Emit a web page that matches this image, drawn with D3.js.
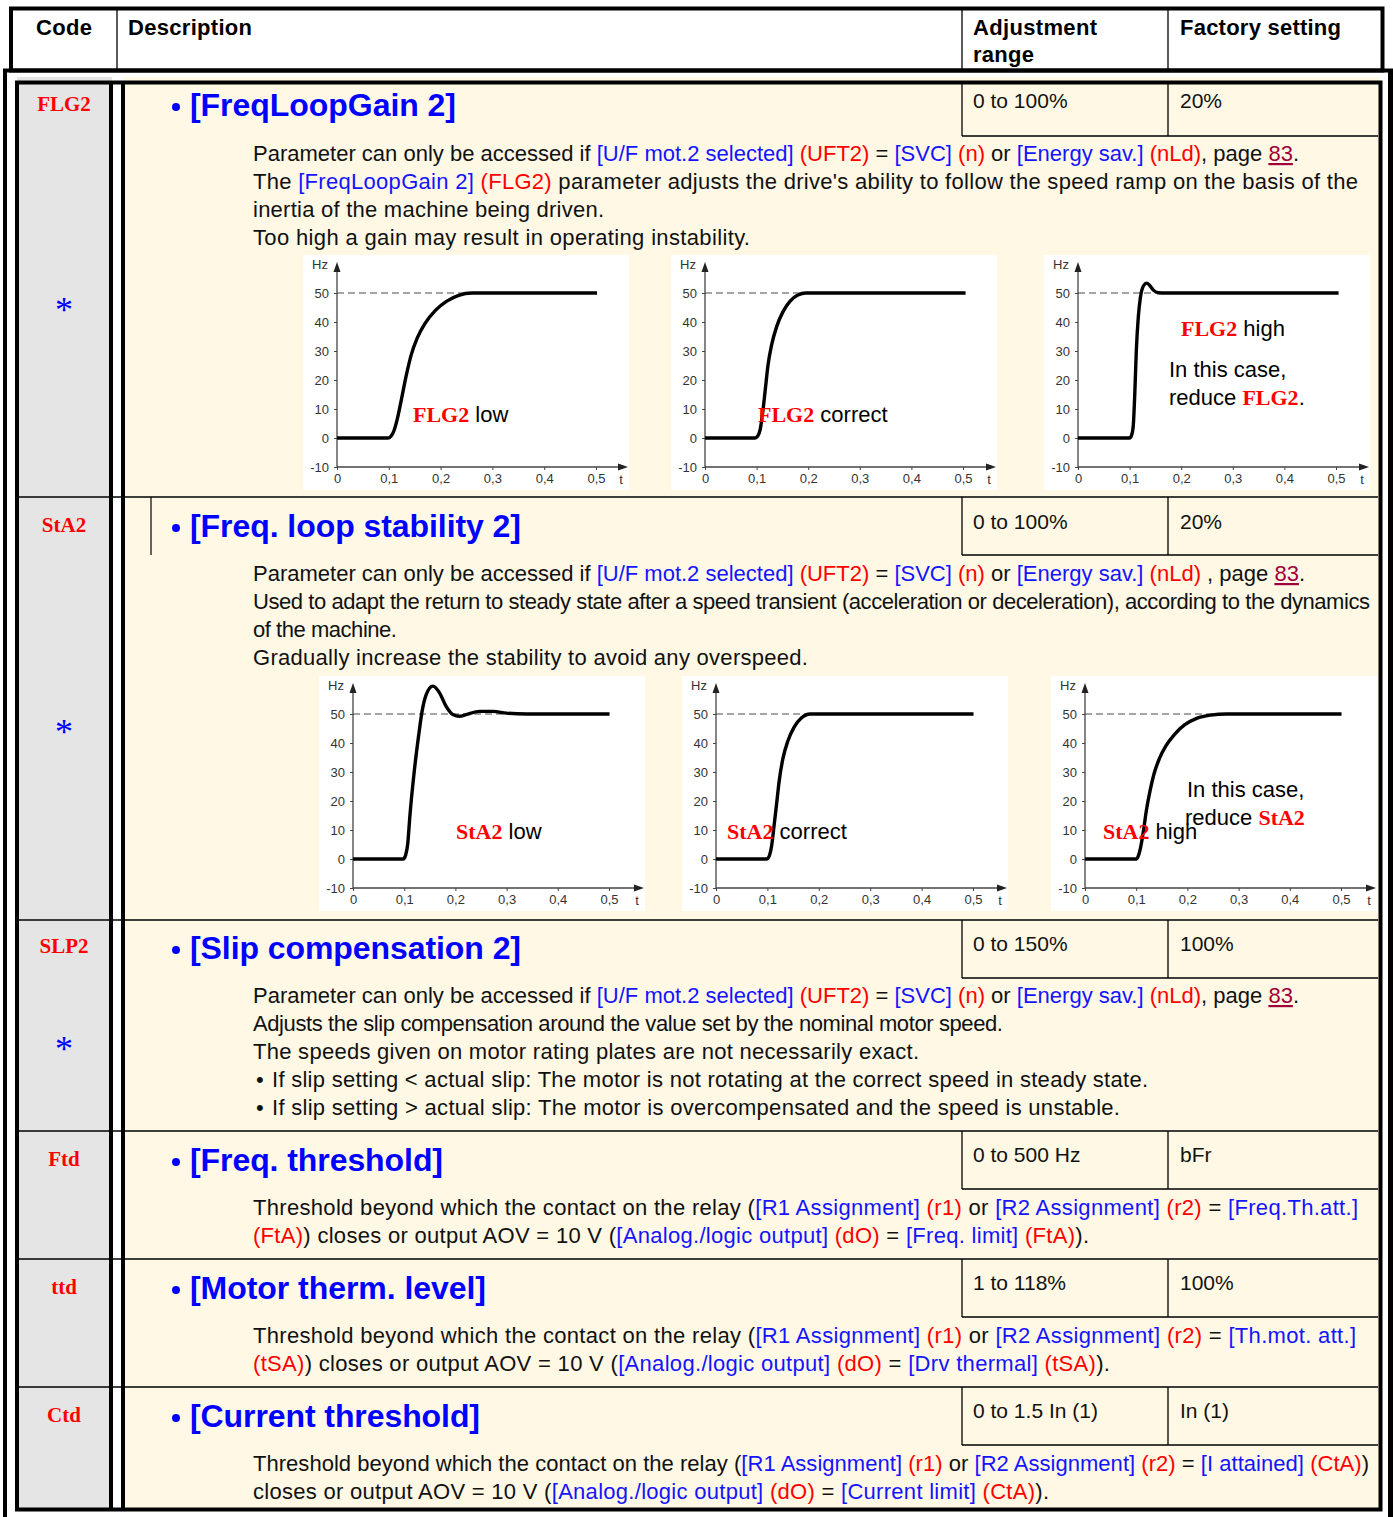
<!DOCTYPE html>
<html><head><meta charset="utf-8">
<script src="https://cdn.jsdelivr.net/npm/d3@7"></script>
<style>body{margin:0;background:#fff} svg{display:block} text{white-space:pre}</style>
</head><body><svg id="c" width="1393" height="1517"></svg>
<script>
// ---------------- DATA ----------------
const codes = ["FLG2", "StA2", "SLP2", "Ftd", "ttd", "Ctd"];
const titles = ["[FreqLoopGain 2]", "[Freq. loop stability 2]", "[Slip compensation 2]", "[Freq. threshold]", "[Motor therm. level]", "[Current threshold]"];
const ranges = ["0 to 100%", "0 to 100%", "0 to 150%", "0 to 500 Hz", "1 to 118%", "0 to 1.5 In (1)"];
const factory = ["20%", "20%", "100%", "bFr", "100%", "In (1)"];
const starred = [true, true, true, false, false, false];
const headers = ["Code", "Description", "Adjustment", "range", "Factory setting"];

const descFLG2 = [
  "Parameter can only be accessed if {b:[U/F mot.2 selected]} {r:(UFT2)} = {b:[SVC]} {r:(n)} or {b:[Energy sav.]} {r:(nLd)}, page {u:83}.",
  "The {b:[FreqLoopGain 2]} {r:(FLG2)} parameter adjusts the drive's ability to follow the speed ramp on the basis of the",
  "inertia of the machine being driven.",
  "Too high a gain may result in operating instability."
];
const descStA2 = [
  "Parameter can only be accessed if {b:[U/F mot.2 selected]} {r:(UFT2)} = {b:[SVC]} {r:(n)} or {b:[Energy sav.]} {r:(nLd)} , page {u:83}.",
  "Used to adapt the return to steady state after a speed transient (acceleration or deceleration), according to the dynamics",
  "of the machine.",
  "Gradually increase the stability to avoid any overspeed."
];
const descSLP2 = [
  "Parameter can only be accessed if {b:[U/F mot.2 selected]} {r:(UFT2)} = {b:[SVC]} {r:(n)} or {b:[Energy sav.]} {r:(nLd)}, page {u:83}.",
  "Adjusts the slip compensation around the value set by the nominal motor speed.",
  "The speeds given on motor rating plates are not necessarily exact.",
  "•If slip setting < actual slip: The motor is not rotating at the correct speed in steady state.",
  "•If slip setting > actual slip: The motor is overcompensated and the speed is unstable."
];
const descFtd = [
  "Threshold beyond which the contact on the relay ({b:[R1 Assignment]} {r:(r1)} or {b:[R2 Assignment]} {r:(r2)} = {b:[Freq.Th.att.]}",
  "{r:(FtA)}) closes or output AOV = 10 V ({b:[Analog./logic output]} {r:(dO)} = {b:[Freq. limit]} {r:(FtA)})."
];
const descTtd = [
  "Threshold beyond which the contact on the relay ({b:[R1 Assignment]} {r:(r1)} or {b:[R2 Assignment]} {r:(r2)} = {b:[Th.mot. att.]}",
  "{r:(tSA)}) closes or output AOV = 10 V ({b:[Analog./logic output]} {r:(dO)} = {b:[Drv thermal]} {r:(tSA)})."
];
const descCtd = [
  "Threshold beyond which the contact on the relay ({b:[R1 Assignment]} {r:(r1)} or {b:[R2 Assignment]} {r:(r2)} = {b:[I attained]} {r:(CtA)})",
  "closes or output AOV = 10 V ({b:[Analog./logic output]} {r:(dO)} = {b:[Current limit]} {r:(CtA)})."
];
const descriptions = [descFLG2, descStA2, descSLP2, descFtd, descTtd, descCtd];

// chart axes
const yTicks = [-10, 0, 10, 20, 30, 40, 50];
const tTicks = [0, 0.1, 0.2, 0.3, 0.4, 0.5];
const yUnit = "Hz", tUnit = "t";

// chart series [t, Hz]
const flg2Low = [[0,0],[0.098,0],[0.104,0.6],[0.11,2.5],[0.117,7],[0.124,13],[0.133,21],[0.143,28.5],[0.155,34.5],[0.17,39.5],[0.19,44],[0.212,47.2],[0.235,49.2],[0.26,50],[0.502,50]];
const flg2Correct = [[0,0],[0.097,0],[0.102,0.6],[0.107,3],[0.112,9],[0.117,17],[0.122,25],[0.129,32],[0.139,38.5],[0.151,43.5],[0.165,47.2],[0.18,49.3],[0.196,50],[0.505,50]];
const flg2High = [[0,0],[0.1,0],[0.104,1],[0.107,4],[0.11,15],[0.113,30],[0.117,42],[0.121,48.5],[0.127,52.5],[0.133,53.4],[0.139,52.6],[0.146,51],[0.155,50.1],[0.17,50],[0.505,50]];
const stA2Low = [[0,0],[0.098,0],[0.103,1.5],[0.107,5.4],[0.111,14.6],[0.12,30.8],[0.128,42.3],[0.135,51],[0.143,56.7],[0.156,59.6],[0.169,57.3],[0.182,52.6],[0.195,49.8],[0.208,49.2],[0.221,49.8],[0.247,50.9],[0.273,50.9],[0.3,50.3],[0.339,50],[0.501,50]];
const stA2Correct = [[0,0],[0.099,0],[0.104,1.2],[0.108,4.3],[0.113,11.5],[0.118,19.2],[0.123,27],[0.13,34.5],[0.14,40.8],[0.152,45.5],[0.166,48.6],[0.183,50],[0.501,50]];
const stA2High = [[0,0],[0.1,0],[0.104,1],[0.108,3.5],[0.114,9.5],[0.12,16.9],[0.127,23.5],[0.135,29.5],[0.145,34.5],[0.158,39],[0.175,43],[0.195,46.3],[0.218,48.5],[0.245,49.6],[0.277,50],[0.501,50]];
const chartSeries = [flg2Low, flg2Correct, flg2High, stA2Low, stA2Correct, stA2High];
const setpoint = 50;

const chartNotes = [
  [["{c:FLG2} low"]],
  [["{c:FLG2} correct"]],
  [["{c:FLG2} high"], ["In this case,"], ["reduce {c:FLG2}."]],
  [["{c:StA2} low"]],
  [["{c:StA2} correct"]],
  [["{c:StA2} high"], ["In this case,"], ["reduce {c:StA2}"]]
];

// ---------------- LAYOUT / STYLE ----------------
const SANS = "'Liberation Sans', Arial, sans-serif";
const SERIF = "'Liberation Serif', 'Times New Roman', serif";
const C_HEAD = "#0000ff", C_LINK = "#1414ff", C_RED = "#ff0000", C_TXT = "#111", C_PAGE = "#a0003a";
const C_GRAY = "#e5e5e5", C_CREAM = "#fef8e5";

const rowTops = [82, 497, 920, 1131, 1259, 1387];
const rowBottom = 1509;
const headY = [116, 537, 959, 1171, 1299, 1427];
const cellY = [108, 529, 951, 1162, 1290, 1418];
const cellBot = [136, 555, 978, 1189, 1317, 1445];
const codeY = [111, 532, 953, 1166, 1294, 1422];
const starY = [322, 744, 1061];
const lineY0 = [161, 581, 1003, 1215, 1343, 1471];
const lineH = 28;
const headEnds = [456, 521, 521, 443, 486, 480];
const lineEnds = [[1299,1358,604,750],[1305,1370,397,808],[1299,1003,919,1148,1120],[1358,1089],[1356,1110],[1369,1049]];

const chartPos = [
  {ax:337, ax5:596, y50:293, ym:467},
  {ax:705, ax5:963, y50:293, ym:467},
  {ax:1078, ax5:1336, y50:293, ym:467},
  {ax:353, ax5:609, y50:714, ym:888},
  {ax:716, ax5:973, y50:714, ym:888},
  {ax:1085, ax5:1341, y50:714, ym:888}
];
const notePos = [
  [[76,129]],
  [[53,129]],
  [[103,43],[91,84],[91,112]],
  [[103,125]],
  [[11,125]],
  [[18,125],[102,83],[100,111]]
];

const svg = d3.select("#c");

function fitWidth(sel, x0, x1) {
  const node = sel.node();
  const w = node.getComputedTextLength();
  const n = node.textContent.length;
  if (n > 1) sel.style("letter-spacing", ((x1 - x0 - w) / (n - 1)).toFixed(3) + "px");
}

function rich(parent, str, x, y, size) {
  const t = parent.append("text").attr("x", x).attr("y", y)
    .style("font-family", SANS).style("font-size", size + "px").attr("fill", C_TXT);
  const re = /\{([bruc]):([^}]*)\}/g;
  let last = 0, m;
  while ((m = re.exec(str))) {
    if (m.index > last) t.append("tspan").text(str.slice(last, m.index));
    const ts = t.append("tspan").text(m[2]);
    if (m[1] === "b") ts.attr("fill", C_LINK);
    else if (m[1] === "r") ts.attr("fill", C_RED);
    else if (m[1] === "u") ts.attr("fill", C_PAGE).style("text-decoration", "underline");
    else if (m[1] === "c") ts.attr("fill", C_RED).style("font-family", SERIF).style("font-weight", "bold");
    last = re.lastIndex;
  }
  if (last < str.length) t.append("tspan").text(str.slice(last));
  return t;
}

// ---------- background fills ----------
svg.append("rect").attr("x", 17).attr("y", 77).attr("width", 95).attr("height", rowBottom - 77).attr("fill", C_GRAY);
svg.append("rect").attr("x", 123).attr("y", 77).attr("width", 1257).attr("height", rowBottom - 77).attr("fill", C_CREAM);

// ---------- header ----------
const hdr = svg.append("g");
hdr.append("rect").attr("x", 11).attr("y", 8.5).attr("width", 1371.5).attr("height", 62).attr("fill", "#fff").attr("stroke", "#000").attr("stroke-width", 4);
[117, 962, 1168].forEach(x => hdr.append("line").attr("x1", x).attr("x2", x).attr("y1", 10).attr("y2", 69).attr("stroke", "#000").attr("stroke-width", 1.3));
const hpos = [[36,35,92],[128,35,252],[973,35,1097],[973,62,1034],[1180,35,1341]];
headers.forEach((h, i) => {
  const t = hdr.append("text").attr("x", hpos[i][0]).attr("y", hpos[i][1]).text(h)
    .style("font-family", SANS).style("font-weight", "bold").style("font-size", "22px").attr("fill", "#000");
  fitWidth(t, hpos[i][0], hpos[i][2]);
});

// ---------- rows ----------
const body = svg.append("g");
codes.forEach((code, i) => {
  const top = rowTops[i];
  if (i > 0) body.append("line").attr("x1", 19).attr("x2", 1378).attr("y1", top).attr("y2", top).attr("stroke", "#000").attr("stroke-width", 1.4);
  body.append("line").attr("x1", 962).attr("x2", 1378).attr("y1", cellBot[i]).attr("y2", cellBot[i]).attr("stroke", "#000").attr("stroke-width", 1.3);
  [962, 1168].forEach(x => body.append("line").attr("x1", x).attr("x2", x).attr("y1", top).attr("y2", cellBot[i]).attr("stroke", "#000").attr("stroke-width", 1.3));
  body.append("text").attr("x", 973).attr("y", cellY[i]).text(ranges[i]).style("font-family", SANS).style("font-size", "21px").attr("fill", C_TXT);
  body.append("text").attr("x", 1180).attr("y", cellY[i]).text(factory[i]).style("font-family", SANS).style("font-size", "21px").attr("fill", C_TXT);
  body.append("text").attr("x", 64).attr("y", codeY[i]).attr("text-anchor", "middle").text(code)
    .style("font-family", SERIF).style("font-weight", "bold").style("font-size", "21px").attr("fill", C_RED);
  if (starred[i]) body.append("text").attr("x", 64).attr("y", starY[i]).attr("text-anchor", "middle").text("*")
    .style("font-family", SERIF).style("font-size", "36px").attr("fill", C_HEAD);
  body.append("circle").attr("cx", 176).attr("cy", headY[i] - 9).attr("r", 4).attr("fill", C_HEAD);
  const ht = body.append("text").attr("x", 190).attr("y", headY[i]).text(titles[i])
    .style("font-family", SANS).style("font-weight", "bold").style("font-size", "32px").attr("fill", C_HEAD);
  fitWidth(ht, 190, headEnds[i]);
  descriptions[i].forEach((ln, j) => {
    const y = lineY0[i] + j * lineH;
    let x = 253, s = ln;
    if (s.startsWith("•")) {
      body.append("text").attr("x", 256).attr("y", y).text("•").style("font-family", SANS).style("font-size", "22px").attr("fill", C_TXT);
      s = s.slice(1); x = 272;
    }
    const t = rich(body, s, x, y, 22);
    fitWidth(t, x, lineEnds[i][j]);
  });
});
body.append("line").attr("x1", 151).attr("x2", 151).attr("y1", 497).attr("y2", 555).attr("stroke", "#000").attr("stroke-width", 1.2);

// ---------- frames ----------
const fr = svg.append("g").attr("fill", "none").attr("stroke", "#000");
fr.append("line").attr("x1", 3).attr("x2", 1393).attr("y1", 70.5).attr("y2", 70.5).attr("stroke-width", 4);
fr.append("line").attr("x1", 5).attr("x2", 5).attr("y1", 69).attr("y2", 1517).attr("stroke-width", 4);
fr.append("line").attr("x1", 1390.5).attr("x2", 1390.5).attr("y1", 69).attr("y2", 1517).attr("stroke-width", 5);
fr.append("rect").attr("x", 17).attr("y", 82.5).attr("width", 1363.5).attr("height", 1427).attr("stroke-width", 4);
fr.append("line").attr("x1", 111).attr("x2", 111).attr("y1", 82).attr("y2", 1510).attr("stroke-width", 4);
fr.append("line").attr("x1", 123).attr("x2", 123).attr("y1", 82).attr("y2", 1510).attr("stroke-width", 4);

// ---------- charts ----------
chartSeries.forEach((series, k) => {
  const p = chartPos[k];
  const g = svg.append("g");
  const x = d3.scaleLinear().domain([0, 0.5]).range([p.ax, p.ax5]);
  const y = d3.scaleLinear().domain([-10, 50]).range([p.ym, p.y50]);
  g.append("rect").attr("x", p.ax - 34).attr("y", y(50) - 38).attr("width", 326).attr("height", y(-10) - y(50) + 61).attr("fill", "#fff");
  g.append("line").attr("x1", x(0)).attr("x2", x(0.5)).attr("y1", y(setpoint)).attr("y2", y(setpoint))
    .attr("stroke", "#888").attr("stroke-width", 1.3).attr("stroke-dasharray", "7,4");
  const yAx = g.append("g").attr("transform", `translate(${x(0)},0)`)
    .call(d3.axisLeft(y).tickValues(yTicks).tickSize(3).tickSizeOuter(0).tickPadding(5).tickFormat(d => d));
  const xAx = g.append("g").attr("transform", `translate(0,${y(-10)})`)
    .call(d3.axisBottom(x).tickValues(tTicks).tickSize(3).tickSizeOuter(0).tickPadding(4).tickFormat(d => d === 0 ? "0" : String(d).replace(".", ",")));
  [yAx, xAx].forEach(a => {
    a.select(".domain").remove();
    a.selectAll("line").attr("stroke", "#444");
    a.selectAll("text").style("font-family", SANS).style("font-size", "13px").attr("fill", "#333");
  });
  const yTop = y(50) - 31, xEnd = x(0) + 291;
  g.append("line").attr("x1", x(0)).attr("x2", x(0)).attr("y1", y(-10)).attr("y2", yTop + 6).attr("stroke", "#444").attr("stroke-width", 1.3);
  g.append("line").attr("x1", x(0)).attr("x2", xEnd - 6).attr("y1", y(-10)).attr("y2", y(-10)).attr("stroke", "#444").attr("stroke-width", 1.3);
  g.append("path").attr("d", `M${x(0)},${yTop}L${x(0) - 3.5},${yTop + 10}L${x(0) + 3.5},${yTop + 10}Z`).attr("fill", "#222");
  g.append("path").attr("d", `M${xEnd},${y(-10)}L${xEnd - 10},${y(-10) - 3.5}L${xEnd - 10},${y(-10) + 3.5}Z`).attr("fill", "#222");
  g.append("text").attr("x", x(0) - 9).attr("y", yTop + 7).attr("text-anchor", "end").text(yUnit)
    .style("font-family", SANS).style("font-size", "13px").attr("fill", "#333");
  g.append("text").attr("x", x(0) + 284).attr("y", y(-10) + 17).attr("text-anchor", "middle").text(tUnit)
    .style("font-family", SANS).style("font-size", "13px").attr("fill", "#333");
  const line = d3.line().x(d => x(d[0])).y(d => y(d[1])).curve(d3.curveMonotoneX);
  g.append("path").datum(series).attr("d", line).attr("fill", "none").attr("stroke", "#000").attr("stroke-width", 3.4).attr("stroke-linejoin", "round");
  chartNotes[k].forEach((n, j) => {
    const [dx, dy] = notePos[k][j];
    rich(g, n[0], p.ax + dx, p.y50 + dy, 22).attr("fill", "#000");
  });
});
</script></body></html>
